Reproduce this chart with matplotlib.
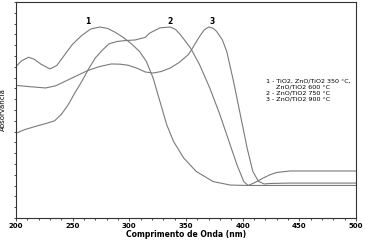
import matplotlib
matplotlib.use("Agg")
import matplotlib.pyplot as plt
from matplotlib.ticker import MultipleLocator, NullFormatter

# curva 1 - TiO2, ZnO/TiO2 350 C, ZnO/TiO2 600 C
wl_1 = [200, 205, 211, 216, 222, 230, 236, 243, 250, 258, 266, 274, 281, 287, 294, 301,
        309, 315, 321, 327, 333, 339, 348, 359, 374, 389, 404, 430, 500]
abs_1 = [0.702, 0.728, 0.744, 0.735, 0.712, 0.690, 0.706, 0.756, 0.805, 0.845, 0.875, 0.884,
         0.877, 0.861, 0.838, 0.810, 0.771, 0.725, 0.648, 0.540, 0.432, 0.355, 0.278, 0.216,
         0.169, 0.153, 0.151, 0.151, 0.151]

# curva 2 - ZnO/TiO2 750 C
wl_2 = [200, 208, 217, 226, 234, 240, 246, 252, 258, 264, 270, 276, 282, 289, 296, 305,
        314, 318, 327, 336, 341, 345, 350, 354, 362, 371, 380, 389, 395, 401, 405, 411,
        418, 424, 430, 442, 500]
abs_2 = [0.393, 0.410, 0.424, 0.437, 0.450, 0.480, 0.524, 0.580, 0.632, 0.690, 0.741, 0.776,
         0.806, 0.817, 0.821, 0.824, 0.836, 0.856, 0.880, 0.884, 0.872, 0.849, 0.815, 0.787,
         0.710, 0.602, 0.478, 0.339, 0.247, 0.169, 0.151, 0.165, 0.185, 0.200, 0.211, 0.218,
         0.218]

# curva 3 - ZnO/TiO2 900 C
wl_3 = [200, 212, 226, 235, 243, 253, 263, 273, 284, 292, 299, 307, 314, 321, 328, 336,
        344, 352, 355, 358, 362, 366, 370, 374, 377, 382, 386, 392, 398, 404, 409, 414,
        419, 424, 440, 500]
abs_3 = [0.614, 0.608, 0.602, 0.612, 0.632, 0.657, 0.682, 0.700, 0.713, 0.712, 0.707, 0.693,
         0.676, 0.671, 0.678, 0.694, 0.720, 0.756, 0.779, 0.806, 0.840, 0.870, 0.884, 0.878,
         0.864, 0.826, 0.771, 0.632, 0.478, 0.324, 0.216, 0.170, 0.158, 0.160, 0.162, 0.162]

peak_labels = ["1", "2", "3"]
peak_pos = [263, 336, 373]
legend_lines = ["1 - TiO2, ZnO/TiO2 350 °C,",
                "     ZnO/TiO2 600 °C",
                "2 - ZnO/TiO2 750 °C",
                "3 - ZnO/TiO2 900 °C"]

fig = plt.figure(figsize=(3.65, 2.41), dpi=100)
ax = fig.add_axes([0.044, 0.095, 0.931, 0.897])

cor = "#7a7a7a"
ax.plot(wl_1, abs_1, color=cor, lw=0.8)
ax.plot(wl_2, abs_2, color=cor, lw=0.8)
ax.plot(wl_3, abs_3, color=cor, lw=0.8)

for lab, x in zip(peak_labels, peak_pos):
    ax.text(x, 0.91, lab, fontsize=5.5, fontweight="bold", ha="center", va="center")

ax.text(421, 0.645, "\n".join(legend_lines), fontsize=4.6, ha="left", va="top",
        linespacing=1.2)

ax.set_xlim(200, 500)
ax.set_ylim(0, 1)
ax.xaxis.set_major_locator(MultipleLocator(50))
ax.xaxis.set_minor_locator(MultipleLocator(10))
ax.yaxis.set_major_locator(MultipleLocator(0.05))
ax.yaxis.set_major_formatter(NullFormatter())
ax.tick_params(axis="x", labelsize=5, length=2, width=0.5, pad=1.5)
ax.tick_params(axis="x", which="minor", length=1.5, width=0.5)
ax.tick_params(axis="y", length=1.5, width=0.5)
for lbl in ax.get_xticklabels():
    lbl.set_fontweight("bold")
for s in ax.spines.values():
    s.set_linewidth(0.8)
    s.set_color("#333333")

ax.set_xlabel("Comprimento de Onda (nm)", fontsize=5.5, fontweight="bold", labelpad=1)
ax.set_ylabel("Absorvância", fontsize=5, labelpad=2)

fig.savefig("out.png", dpi=100)
